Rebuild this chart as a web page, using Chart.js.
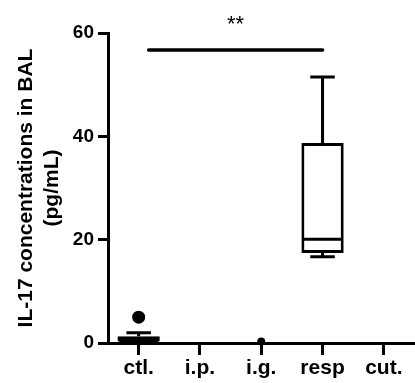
<!DOCTYPE html>
<html>
<head>
<meta charset="utf-8">
<script src="https://cdn.jsdelivr.net/npm/chart.js@4.4.0/dist/chart.umd.min.js"></script>
<style>
    html, body { margin: 0; padding: 0; background: #fff; overflow: hidden; }
</style>
</head>
<body>
<canvas id="myChart" width="421" height="383"></canvas>
<script>
const categories = ['ctl.', 'i.p.', 'i.g.', 'resp', 'cut.'];
const minVals = [0, null, null, 16.7, null];
const q1Vals = [0, null, null, 17.4, null];
const medianVals = [0.4, null, null, 20.1, null];
const q3Vals = [1.3, null, null, 38.7, null];
const maxVals = [2.0, null, null, 51.5, null];
const outlierVals = [5.0, null, 0.3, null, null];
const outlierSizes = [6.5, 0, 4, 0, 0];
const yTicks = [0, 20, 40, 60];
const sigFrom = 'ctl.';
const sigTo = 'resp';
const sigValue = 56.7;
const sigText = '**';

document.addEventListener("DOMContentLoaded", function () {

    const boxes = categories.map((c, i) => q1Vals[i] === null ? null : [q1Vals[i], q3Vals[i]]);

    // whiskers, medians and the significance bar
    const boxExtras = {
        id: 'boxExtras',
        afterDatasetsDraw(chart) {
            const c = chart.ctx;
            const y = chart.scales.y;
            const x = chart.scales.x;
            const bars = chart.getDatasetMeta(0).data;
            c.save();
            c.strokeStyle = '#000';
            c.lineWidth = 3;
            c.lineCap = 'butt';
            bars.forEach((bar, i) => {
                if (q1Vals[i] === null) return;
                const cx = bar.x;
                const capHalf = bar.width * 0.29;
                const boxHalf = bar.width / 2 - 1.5;
                c.beginPath();
                // upper whisker
                c.moveTo(cx, y.getPixelForValue(q3Vals[i]));
                c.lineTo(cx, y.getPixelForValue(maxVals[i]));
                c.moveTo(cx - capHalf, y.getPixelForValue(maxVals[i]));
                c.lineTo(cx + capHalf, y.getPixelForValue(maxVals[i]));
                // lower whisker
                c.moveTo(cx, y.getPixelForValue(q1Vals[i]));
                c.lineTo(cx, y.getPixelForValue(minVals[i]));
                c.moveTo(cx - capHalf, y.getPixelForValue(minVals[i]));
                c.lineTo(cx + capHalf, y.getPixelForValue(minVals[i]));
                // median
                c.moveTo(cx - boxHalf, y.getPixelForValue(medianVals[i]));
                c.lineTo(cx + boxHalf, y.getPixelForValue(medianVals[i]));
                c.stroke();
            });

            const x1 = x.getPixelForValue(categories.indexOf(sigFrom)) + 10;
            const x2 = x.getPixelForValue(categories.indexOf(sigTo));
            const sy = y.getPixelForValue(sigValue);
            c.lineWidth = 3.5;
            c.lineCap = 'round';
            c.beginPath();
            c.moveTo(x1, sy);
            c.lineTo(x2, sy);
            c.stroke();

            c.fillStyle = '#000';
            c.font = '22px "Liberation Sans", Arial, sans-serif';
            c.textAlign = 'center';
            c.textBaseline = 'alphabetic';
            c.fillText(sigText, (x1 + x2) / 2, sy - 19);
            c.restore();
        }
    };

    const ctx = document.getElementById('myChart').getContext('2d');
    const myChart = new Chart(ctx, {
        type: 'bar',
        data: {
            labels: categories,
            datasets: [
                {
                    label: 'box',
                    data: boxes,
                    backgroundColor: '#fff',
                    borderColor: '#000',
                    borderWidth: 3,
                    borderSkipped: false,
                    categoryPercentage: 1,
                    barPercentage: 0.69,
                    order: 2
                },
                {
                    type: 'line',
                    label: 'points',
                    data: outlierVals,
                    showLine: false,
                    pointRadius: outlierSizes,
                    pointBackgroundColor: '#000',
                    pointBorderColor: '#000',
                    pointBorderWidth: 0,
                    order: 1
                }
            ]
        },
        options: {
            responsive: false,
            animation: false,
            layout: {
                padding: { top: 33, left: 0, right: 0, bottom: 0 }
            },
            plugins: {
                legend: { display: false },
                tooltip: { enabled: false },
                title: { display: false }
            },
            scales: {
                x: {
                    offset: true,
                    afterFit: function (scale) { scale.height = 40; },
                    grid: {
                        offset: false,
                        drawOnChartArea: false,
                        drawTicks: true,
                        tickLength: 12,
                        color: '#000',
                        lineWidth: 3
                    },
                    border: { color: '#000', width: 3 },
                    ticks: {
                        color: '#000',
                        padding: 1,
                        font: { family: '"Liberation Sans", Arial, sans-serif', size: 21, weight: 'bold' }
                    }
                },
                y: {
                    min: 0,
                    max: 60,
                    afterFit: function (scale) { scale.width = 108; },
                    afterBuildTicks: function (scale) {
                        scale.ticks = yTicks.map(v => ({ value: v }));
                    },
                    grid: {
                        drawOnChartArea: false,
                        drawTicks: true,
                        tickLength: 10,
                        color: '#000',
                        lineWidth: 3
                    },
                    border: { color: '#000', width: 3 },
                    ticks: {
                        color: '#000',
                        padding: 4,
                        font: { family: '"Liberation Sans", Arial, sans-serif', size: 19, weight: 'bold' }
                    },
                    title: {
                        display: true,
                        text: ['IL-17 concentrations in BAL', '(pg/mL)'],
                        color: '#000',
                        padding: { top: 14, bottom: 0 },
                        font: { family: '"Liberation Sans", Arial, sans-serif', size: 21, weight: 'bold', lineHeight: 1.2 }
                    }
                }
            }
        },
        plugins: [boxExtras]
    });

});
</script>
</body>
</html>
